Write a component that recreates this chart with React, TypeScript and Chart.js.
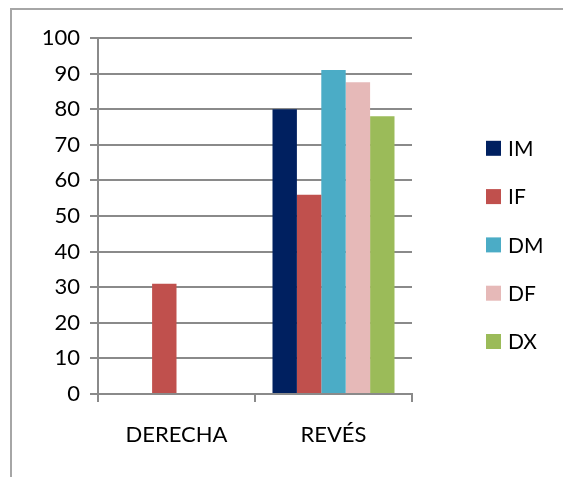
import React, { useEffect, useRef } from "react";
import { Chart, registerables } from "chart.js";

Chart.register(...registerables);

// ---- data ----
const categories = ["DERECHA", "REVÉS"];
const seriesNames = ["IM", "IF", "DM", "DF", "DX"];
const imValues: (number | null)[] = [0, 80];
const ifValues: (number | null)[] = [31, 56];
const dmValues: (number | null)[] = [0, 91];
const dfValues: (number | null)[] = [0, 87.6];
const dxValues: (number | null)[] = [null, 78];
const seriesColors = ["#002060", "#C0504D", "#4BACC6", "#E6B9B8", "#9BBB59"];
const yMin = 0;
const yMax = 100;
const yStep = 10;

const FONT = "Lato, 'Open Sans', sans-serif";
const GRID = "#8a8a8a";

const sideLegend = {
  id: "sideLegend",
  afterDraw(chart: any) {
    const ctx = chart.ctx as CanvasRenderingContext2D;
    ctx.save();
    ctx.font = `21px ${FONT}`;
    ctx.textBaseline = "middle";
    ctx.textAlign = "left";
    chart.data.datasets.forEach((ds: any, i: number) => {
      const y = 148.3 + i * 48.3;
      ctx.fillStyle = ds.backgroundColor;
      ctx.fillRect(486, y - 7.5, 15, 15);
      ctx.fillStyle = "#000000";
      ctx.fillText(ds.label, 508, y + 1);
    });
    ctx.restore();
  },
};

export default function App() {
  const canvasRef = useRef<HTMLCanvasElement | null>(null);

  useEffect(() => {
    if (!canvasRef.current) return;
    const seriesValues = [imValues, ifValues, dmValues, dfValues, dxValues];
    const chart = new Chart(canvasRef.current, {
      type: "bar",
      data: {
        labels: categories,
        datasets: seriesNames.map((name, i) => ({
          label: name,
          data: seriesValues[i],
          backgroundColor: seriesColors[i],
          borderWidth: 0,
          inflateAmount: 0,
        })),
      },
      plugins: [sideLegend],
      options: {
        animation: false,
        responsive: false,
        devicePixelRatio: 1,
        skipNull: true,
        barThickness: 24.4,
        layout: { padding: { left: 0, right: 151, top: 38, bottom: 0 } },
        plugins: {
          legend: { display: false },
          tooltip: { enabled: false },
        },
        scales: {
          x: {
            afterFit: (s: any) => {
              s.height = 83;
            },
            grid: {
              drawOnChartArea: false,
              drawTicks: true,
              tickLength: 8,
              color: GRID,
              lineWidth: 2,
            },
            border: { display: true, color: GRID, width: 2 },
            ticks: {
              color: "#000000",
              font: { family: FONT, size: 22 },
              padding: 20,
              maxRotation: 0,
            },
          },
          y: {
            min: yMin,
            max: yMax,
            afterFit: (s: any) => {
              s.width = 98;
            },
            grid: {
              color: GRID,
              lineWidth: 2,
              tickLength: 8,
              drawTicks: true,
            },
            border: { display: true, color: GRID, width: 2 },
            ticks: {
              stepSize: yStep,
              color: "#000000",
              font: { family: FONT, size: 22 },
              padding: 10,
            },
          },
        },
      } as any,
    });
    return () => chart.destroy();
  }, []);

  return (
    <div style={{ position: "fixed", left: 0, top: 0, width: 563, height: 477, background: "#ffffff", overflow: "hidden" }}>
      <div
        style={{
          position: "absolute",
          left: 10,
          top: 8,
          width: 700,
          height: 600,
          border: "2px solid #a6a6a6",
        }}
      />
      <canvas
        ref={canvasRef}
        width={563}
        height={477}
        style={{ position: "absolute", left: 0, top: 0, width: 563, height: 477 }}
      />
    </div>
  );
}
